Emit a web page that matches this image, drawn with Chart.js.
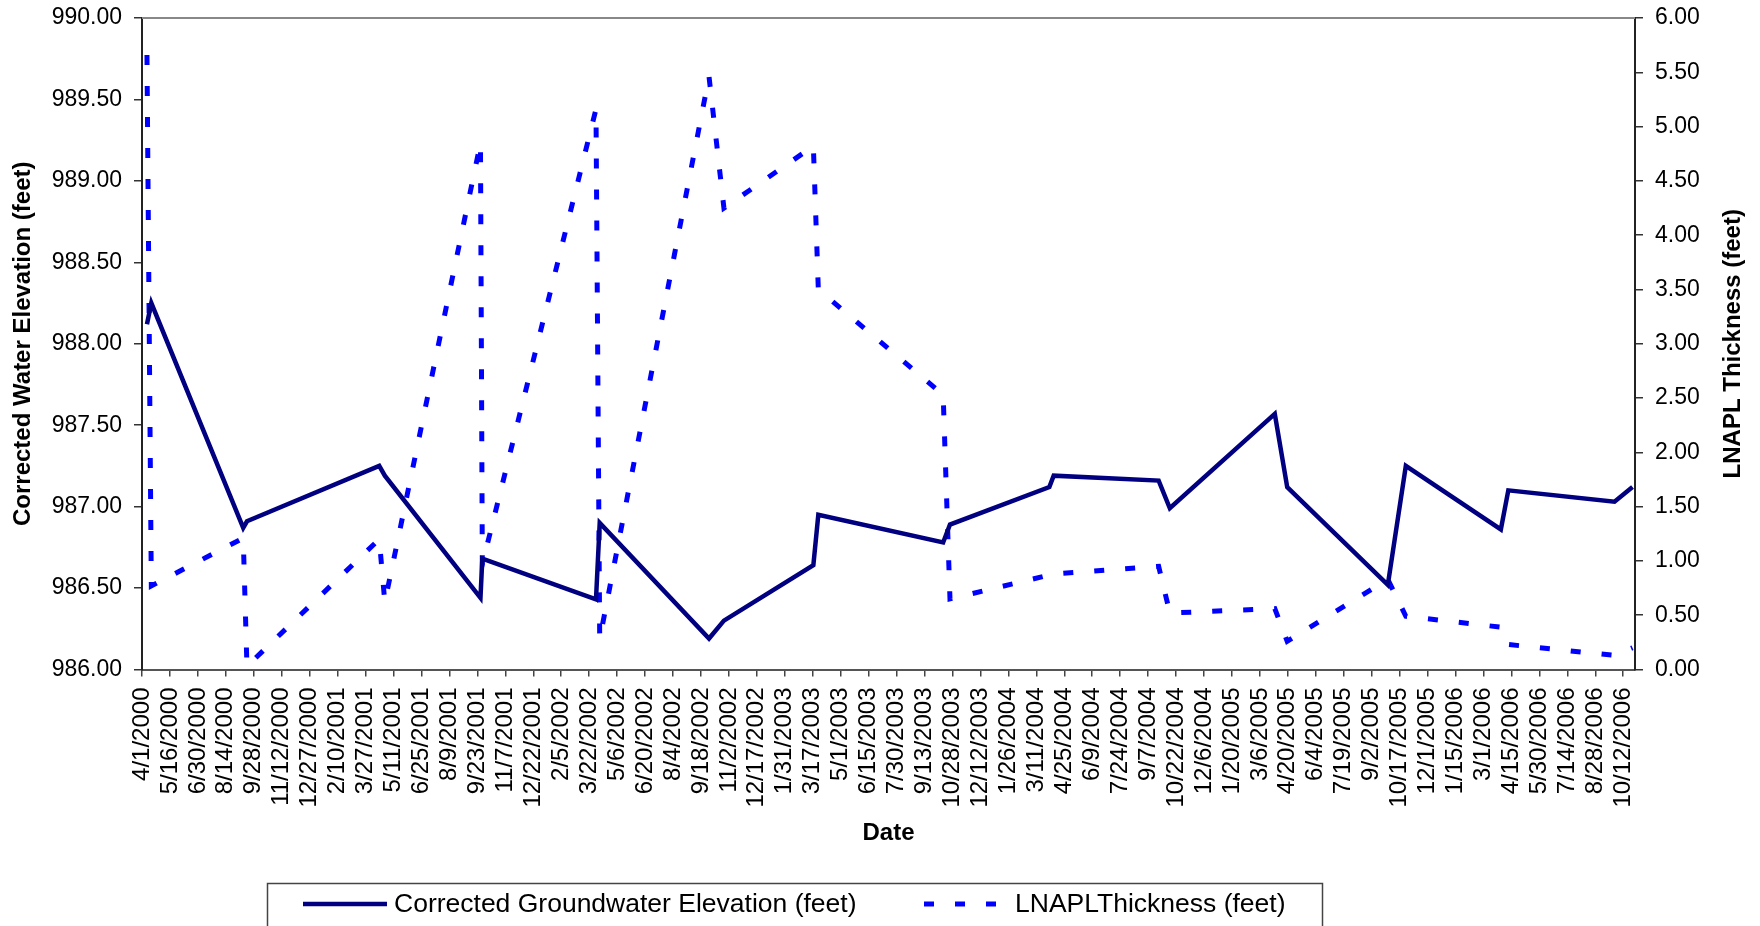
<!DOCTYPE html>
<html>
<head>
<meta charset="utf-8">
<title>Corrected Groundwater Elevation and LNAPL Thickness</title>
<script src="https://cdn.jsdelivr.net/npm/chart.js@4.4.1/dist/chart.umd.min.js"></script>
<style>
  html, body { margin: 0; padding: 0; background: #fff; }
</style>
</head>
<body>
<canvas id="gw-chart" width="1760" height="926"></canvas>
<script>
// gauging dates and readings
const sampleDates = ["4/9/2000", "4/16/2000", "9/11/2000", "9/17/2000", "4/18/2001", "4/27/2001",
  "9/28/2001", "10/1/2001", "4/2/2002", "4/8/2002", "10/1/2002", "10/25/2002", "3/18/2003",
  "3/26/2003", "10/13/2003", "10/24/2003", "4/1/2004", "4/8/2004", "9/24/2004", "10/12/2004",
  "3/30/2005", "4/19/2005", "9/28/2005", "10/27/2005", "3/29/2006", "4/10/2006", "9/28/2006",
  "10/27/2006"];
const elevation = [988.12, 988.25, 986.87, 986.91, 987.25, 987.19, 986.44, 986.68, 986.43, 986.90,
  986.19, 986.30, 986.64, 986.95, 986.78, 986.89, 987.12, 987.19, 987.16, 986.99, 987.57, 987.12,
  986.52, 987.25, 986.86, 987.10, 987.03, 987.12];
const thickness = [5.66, 0.77, 1.21, 0.03, 1.20, 0.62, 4.85, 0.97, 5.16, 0.28, 5.46, 4.25, 4.82,
  3.50, 2.53, 0.65, 0.87, 0.88, 0.95, 0.52, 0.56, 0.26, 0.83, 0.49, 0.39, 0.23, 0.13, 0.20];

// date axis labels (every 45 days)
const tickDates = ["4/1/2000", "5/16/2000", "6/30/2000", "8/14/2000", "9/28/2000", "11/12/2000",
  "12/27/2000", "2/10/2001", "3/27/2001", "5/11/2001", "6/25/2001", "8/9/2001", "9/23/2001",
  "11/7/2001", "12/22/2001", "2/5/2002", "3/22/2002", "5/6/2002", "6/20/2002", "8/4/2002",
  "9/18/2002", "11/2/2002", "12/17/2002", "1/31/2003", "3/17/2003", "5/1/2003", "6/15/2003",
  "7/30/2003", "9/13/2003", "10/28/2003", "12/12/2003", "1/26/2004", "3/11/2004", "4/25/2004",
  "6/9/2004", "7/24/2004", "9/7/2004", "10/22/2004", "12/6/2004", "1/20/2005", "3/6/2005",
  "4/20/2005", "6/4/2005", "7/19/2005", "9/2/2005", "10/17/2005", "12/1/2005", "1/15/2006",
  "3/1/2006", "4/15/2006", "5/30/2006", "7/14/2006", "8/28/2006", "10/12/2006"];
const axisEndDate = "10/31/2006";

const seriesNames = ["Corrected Groundwater Elevation (feet)", "LNAPLThickness (feet)"];

const DAY_MS = 86400000;
const originMs = Date.UTC(2000, 3, 1);
function toDay(s) {
  const [m, d, y] = s.split("/").map(Number);
  return (Date.UTC(y, m - 1, d) - originMs) / DAY_MS;
}

const FONT = '"Liberation Sans", Arial, sans-serif';
Chart.defaults.font.family = FONT;
Chart.defaults.color = "#000";

// keep the y axes from pushing the plot down to fit their end labels
function fixWidth(w) {
  return axis => {
    axis.width = w;
    axis.paddingTop = 0;
    axis.paddingBottom = 0;
  };
}

// top frame line, right-hand title and boxed legend
const extras = {
  id: "extras",
  afterDatasetsDraw(chart) {
    const { ctx, chartArea } = chart;
    ctx.save();
    ctx.strokeStyle = "#888";
    ctx.lineWidth = 2;
    ctx.beginPath();
    ctx.moveTo(chartArea.left, chartArea.top);
    ctx.lineTo(chartArea.right, chartArea.top);
    ctx.stroke();
    ctx.restore();
  },
  afterDraw(chart) {
    const { ctx, chartArea } = chart;
    const right = chart.scales.yThick;
    ctx.save();
    ctx.font = "bold 24px " + FONT;
    ctx.fillStyle = "#000";
    ctx.textAlign = "center";
    ctx.textBaseline = "middle";
    ctx.translate(right.right - 27, (chartArea.top + chartArea.bottom) / 2);
    ctx.rotate(-Math.PI / 2);
    ctx.fillText("LNAPL Thickness (feet)", 0, 0);
    ctx.restore();

    // legend
    const ds = chart.data.datasets;
    ctx.save();
    ctx.strokeStyle = "#444";
    ctx.lineWidth = 1.5;
    ctx.strokeRect(267.5, 883.5, 1055, 80);
    const ly = 904;
    ctx.lineCap = "butt";
    ctx.strokeStyle = ds[0].borderColor;
    ctx.lineWidth = ds[0].borderWidth;
    ctx.beginPath(); ctx.moveTo(303, ly); ctx.lineTo(387, ly); ctx.stroke();
    ctx.strokeStyle = ds[1].borderColor;
    ctx.lineWidth = ds[1].borderWidth;
    ctx.setLineDash(ds[1].borderDash);
    ctx.beginPath(); ctx.moveTo(924, ly); ctx.lineTo(996, ly); ctx.stroke();
    ctx.setLineDash([]);
    ctx.font = "26.5px " + FONT;
    ctx.fillStyle = "#000";
    ctx.textBaseline = "middle";
    ctx.fillText(ds[0].label, 394, ly + 1);
    ctx.fillText(ds[1].label, 1015, ly + 1);
    ctx.restore();
  }
};

new Chart("gw-chart", {
  type: "line",
  data: {
    datasets: [
      {
        label: seriesNames[0],
        data: sampleDates.map((d, i) => ({ x: toDay(d), y: elevation[i] })),
        yAxisID: "yElev",
        borderColor: "#000080",
        borderWidth: 4.5,
        pointRadius: 0,
        tension: 0
      },
      {
        label: seriesNames[1],
        data: sampleDates.map((d, i) => ({ x: toDay(d), y: thickness[i] })),
        yAxisID: "yThick",
        borderColor: "#0000ff",
        borderWidth: 5,
        borderDash: [10, 21],
        borderCapStyle: "butt",
        pointRadius: 0,
        tension: 0
      }
    ]
  },
  options: {
    responsive: false,
    animation: false,
    layout: { padding: { left: 0, right: 0, top: 18, bottom: 78.6 } },
    plugins: { legend: { display: false }, tooltip: { enabled: false } },
    scales: {
      x: {
        type: "linear",
        position: "bottom",
        min: 0,
        max: toDay(axisEndDate),
        afterBuildTicks: axis => { axis.ticks = tickDates.map(d => ({ value: toDay(d) })); },
        afterFit: axis => { axis.height = 177.9; },
        ticks: {
          autoSkip: false,
          minRotation: 90,
          maxRotation: 90,
          padding: 11,
          font: { size: 24 },
          callback: (v, i) => tickDates[i]
        },
        grid: { drawOnChartArea: false, drawTicks: true, tickLength: 7, color: "#444", lineWidth: 1.5 },
        border: { color: "#555", width: 2 },
        title: { display: true, text: "Date", font: { size: 24, weight: "bold" }, padding: { top: 0, bottom: 0 } }
      },
      yElev: {
        position: "left",
        min: 986,
        max: 990,
        afterFit: fixWidth(142),
        ticks: { stepSize: 0.5, padding: 12, font: { size: 23 }, callback: v => v.toFixed(2) },
        grid: { drawOnChartArea: false, drawTicks: true, tickLength: 8, color: "#333", lineWidth: 1.5 },
        border: { color: "#222", width: 2 },
        title: {
          display: true,
          text: "Corrected Water Elevation (feet)",
          font: { size: 24, weight: "bold" },
          padding: { top: 9, bottom: 0 }
        }
      },
      yThick: {
        position: "right",
        min: 0,
        max: 6,
        afterFit: fixWidth(125),
        ticks: { stepSize: 0.5, padding: 12, font: { size: 23 }, callback: v => v.toFixed(2) },
        grid: { drawOnChartArea: false, drawTicks: true, tickLength: 8, color: "#333", lineWidth: 1.5 },
        border: { color: "#222", width: 2 }
      }
    }
  },
  plugins: [extras]
});
</script>
</body>
</html>
